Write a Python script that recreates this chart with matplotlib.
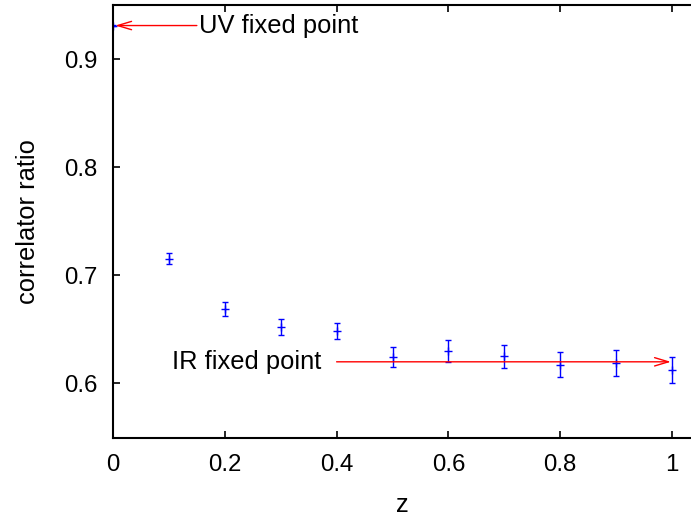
import numpy as np
import matplotlib
matplotlib.use("Agg")
import matplotlib.pyplot as plt

plt.rcParams["font.family"] = ["Liberation Sans", "DejaVu Sans"]

# measured correlator ratios vs z
z = [0.0, 0.1, 0.2, 0.3, 0.4, 0.5, 0.6, 0.7, 0.8, 0.9, 1.0]
ratio = [0.931, 0.7155, 0.6688, 0.6520, 0.6485, 0.6246, 0.6298, 0.6252, 0.6172, 0.6188, 0.6122]
err = [0.0008, 0.0048, 0.0062, 0.0074, 0.0075, 0.0092, 0.0100, 0.0108, 0.0115, 0.0117, 0.0121]

uv_label = "UV fixed point"
ir_label = "IR fixed point"
uv_value = 0.931
ir_value = 0.620

W, H = 691, 519
fig = plt.figure(figsize=(W / 100, H / 100), dpi=100)
ax = fig.add_axes([113 / W, 1 - 437.5 / H, 1 - 113 / W, (437.5 - 5) / H])

ax.errorbar(z, ratio, yerr=err, fmt="+", color="#0000ff", ecolor="#0000ff",
            markersize=6, elinewidth=1.0, capsize=2.3, capthick=1.0, mew=1.0)

arrow = dict(arrowstyle="->,head_length=1.0,head_width=0.3", color="#ff0000",
             lw=1.0, shrinkA=0, shrinkB=0)
ax.annotate("", xy=(0.004, uv_value), xytext=(0.15, uv_value), arrowprops=arrow)
ax.text(0.154, uv_value, uv_label, fontsize=18.4, ha="left", va="center")
ax.annotate("", xy=(0.998, ir_value), xytext=(0.40, ir_value), arrowprops=arrow)
ax.text(0.372, ir_value, ir_label, fontsize=18.4, ha="right", va="center")

ax.set_xlim(0, (W - 113) / 559)
ax.set_ylim(0.55, 0.95)
ax.set_xticks([0, 0.2, 0.4, 0.6, 0.8, 1.0])
ax.set_xticklabels(["0", "0.2", "0.4", "0.6", "0.8", "1"])
ax.set_yticks([0.6, 0.7, 0.8, 0.9])
ax.set_yticklabels(["0.6", "0.7", "0.8", "0.9"])
ax.tick_params(direction="in", length=5, width=1.2, labelsize=17.3,
               top=True, right=False, pad=12)
ax.tick_params(axis="y", pad=11.5)
for side in ["left", "top", "bottom"]:
    ax.spines[side].set_linewidth(1.5)
ax.spines["right"].set_visible(False)

ax.set_xlabel("z", fontsize=18.4, labelpad=12)
ax.set_ylabel("correlator ratio", fontsize=18.4, labelpad=17)

fig.savefig("out.png", dpi=100)
